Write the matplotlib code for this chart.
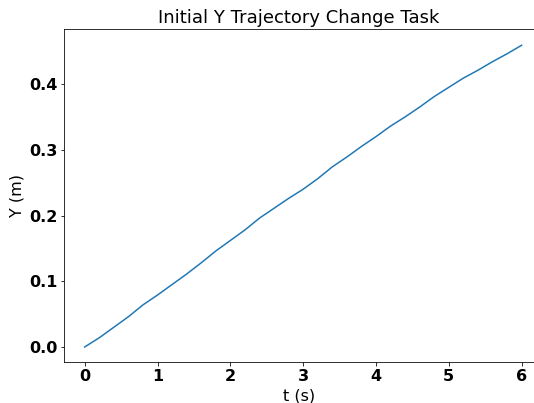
import matplotlib
matplotlib.use("Agg")
import matplotlib.pyplot as plt

# Y trajectory (t in seconds, Y in metres)
t_s = [0.0, 0.2, 0.4, 0.6, 0.8, 1.0, 1.2, 1.4, 1.6, 1.8,
       2.0, 2.2, 2.4, 2.6, 2.8, 3.0, 3.2, 3.4, 3.6, 3.8,
       4.0, 4.2, 4.4, 4.6, 4.8, 5.0, 5.2, 5.4, 5.6, 5.8, 6.0]
y_m = [0.000, 0.014, 0.030, 0.046, 0.064, 0.079, 0.095, 0.111, 0.128, 0.146,
       0.162, 0.178, 0.196, 0.211, 0.226, 0.240, 0.256, 0.274, 0.289, 0.305,
       0.320, 0.336, 0.350, 0.365, 0.381, 0.395, 0.409, 0.421, 0.434, 0.446,
       0.459]

fig = plt.figure(figsize=(534 / 72, 403 / 72), dpi=72)
ax = fig.add_axes([0.1204, 0.101, 0.8796, 0.827])

ax.plot(t_s, y_m, color="#1f77b4", lw=1.5)

ax.set_xlim(-0.28, 6.17)
ax.set_ylim(-0.0233, 0.4837)
ax.set_xticks([0, 1, 2, 3, 4, 5, 6])
ax.set_yticks([0.0, 0.1, 0.2, 0.3, 0.4])
ax.tick_params(labelsize=16)
for lbl in ax.get_xticklabels() + ax.get_yticklabels():
    lbl.set_fontweight("bold")

ax.set_xlabel("t (s)", fontsize=16)
ax.set_ylabel("Y (m)", fontsize=16)
ax.set_title("Initial Y Trajectory Change Task", fontsize=18)
ax.spines["right"].set_visible(False)

fig.savefig("out.png", dpi=72)
